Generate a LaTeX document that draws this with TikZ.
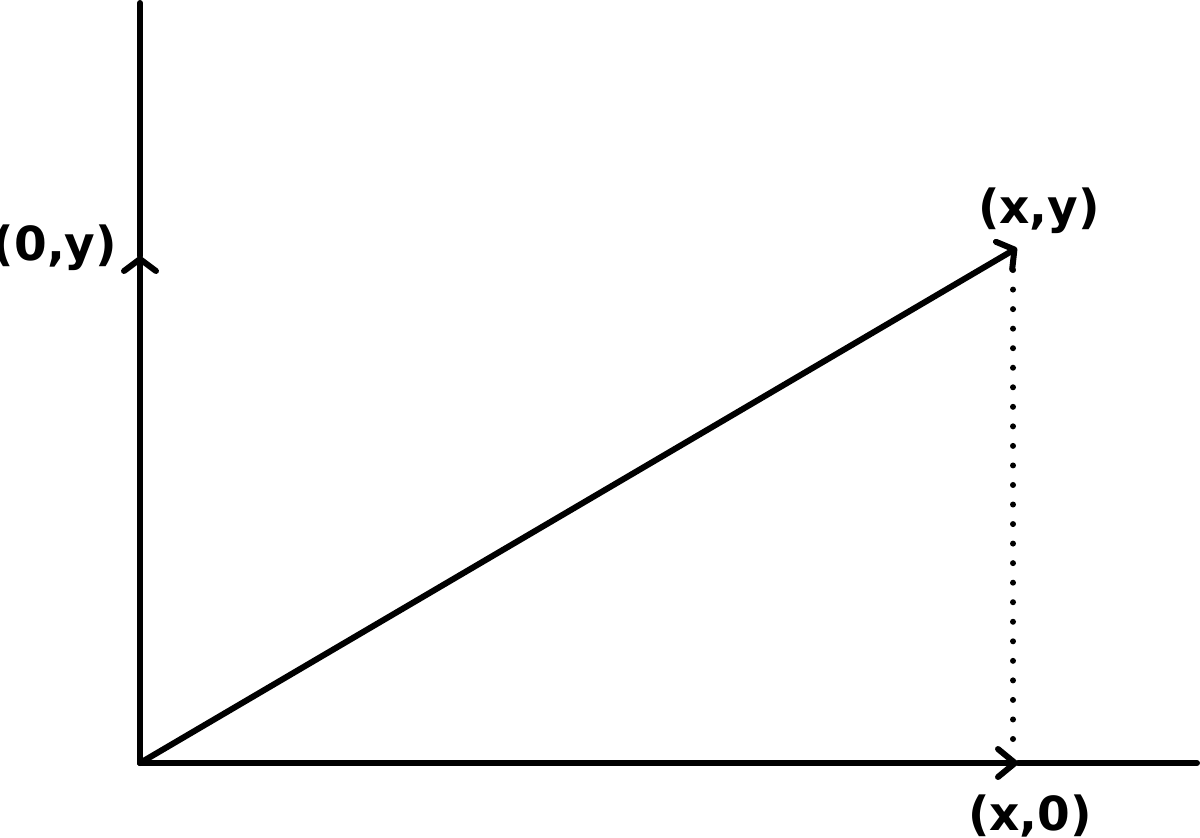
\documentclass[tikz,border=0pt]{standalone}
\usepackage{fontspec}
\setmainfont{DejaVu Sans}
\usetikzlibrary{arrows.meta}
\begin{document}
\begin{tikzpicture}[x=1pt,y=-1pt,
  axis/.style={line width=6pt, line cap=round, line join=round},
  headwide/.style={-{Straight Barb[length=12pt,width=32pt,line width=6pt,round]}},
  headlong/.style={-{Straight Barb[length=17pt,width=28pt,line width=6pt,round]}},
  dots/.style={line width=6pt, line cap=round, dash pattern=on 0pt off 19.54pt},
  lbl/.style={font=\fontsize{47}{50}\selectfont\bfseries, inner sep=0pt, anchor=base}
]
\useasboundingbox (0,0) rectangle (1200,838);
\coordinate (O) at (140,763);
\coordinate (Ytop) at (140,3);
\coordinate (Yt) at (140,256);
\coordinate (Xend) at (1197,763);
\coordinate (Xt) at (1018,763);
\coordinate (V) at (1017,248);
\coordinate (Dtop) at (1013,270);
\coordinate (Dbot) at (1013,739);
% axes
\draw[axis, headwide] (O) -- (Yt);
\draw[axis] (Yt) -- (Ytop);
\draw[axis, headlong] (O) -- (Xt);
\draw[axis] (Xt) -- (Xend);
% vector
\draw[axis, headwide] (O) -- (V);
% projection
\draw[dots] (Dbot) -- (Dtop);
% labels
\node[lbl] (Ly) at (55,260) {(0,y)};
\node[lbl] (Lxy) at (1039,223) {(x,y)};
\node[lbl] (Lx0) at (1030,830) {(x,0)};
\end{tikzpicture}
\end{document}
